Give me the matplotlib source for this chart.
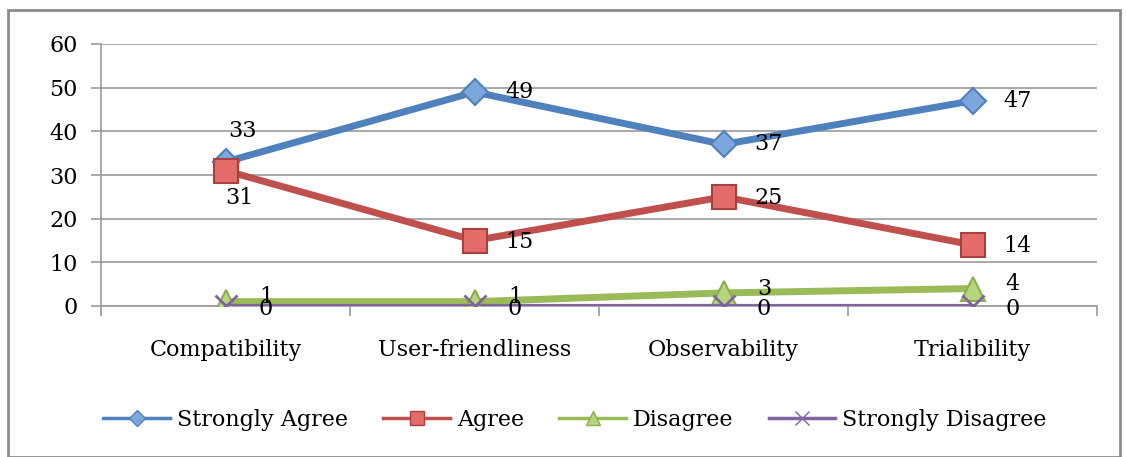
import matplotlib.pyplot as plt
from matplotlib.lines import Line2D
from matplotlib.patches import Rectangle

categories = ["Compatibility", "User-friendliness", "Observability", "Trialibility"]
strongly_agree = [33, 49, 37, 47]
agree = [31, 15, 25, 14]
disagree = [1, 1, 3, 4]
strongly_disagree = [0, 0, 0, 0]

plt.rcParams['font.family'] = ['DejaVu Serif']

fig = plt.figure(figsize=(11.26, 4.57), dpi=100)
ax = fig.add_axes([101 / 1126, 151 / 457, 996 / 1126, 262 / 457])

x = list(range(len(categories)))

series = [
    ("Strongly Agree", strongly_agree, "#4F81BD", "D", 13, 5, "#7DA6DC", "#4F81BD"),
    ("Agree", agree, "#C0504D", "s", 17, 5, "#E36C69", "#A8413E"),
    ("Disagree", disagree, "#9BBB59", "^", 17, 5, "#B5D67C", "#8DAE4E"),
    ("Strongly Disagree", strongly_disagree, "#8064A2", "x", 16, 3, "#8064A2", "#8064A2"),
]

handles = []
for name, vals, col, mk, ms, lw, fc, ec in series:
    mew = 2 if mk == "x" else 1.5
    ax.plot(x, vals, color=col, lw=lw, marker=mk, markersize=ms,
            markerfacecolor=fc, markeredgecolor=ec, markeredgewidth=mew,
            zorder=3, solid_capstyle='round')
    handles.append(Line2D([], [], color=col, lw=2.5, marker=mk, markersize=ms * 0.6,
                          markerfacecolor=fc, markeredgecolor=ec, markeredgewidth=1,
                          label=name))

# data labels
def label(xi, v, dx=22, dy=0, ha='left'):
    ax.annotate(str(v), (xi, v), xytext=(dx, dy), textcoords='offset points',
                ha=ha, va='center', fontsize=16, zorder=5)

for i, v in enumerate(strongly_agree):
    if i == 0:
        label(i, v, 12, 22, 'center')
    else:
        label(i, v, 22, 0)
for i, v in enumerate(agree):
    if i == 0:
        label(i, v, 10, -20, 'center')
    else:
        label(i, v, 22, -1)
for i, v in enumerate(disagree):
    label(i, v, 24, 3)
for i, v in enumerate(strongly_disagree):
    label(i, v, 24, -2)

ax.set_xlim(-0.5, 3.5)
ax.set_ylim(0, 60)
ax.set_yticks(range(0, 61, 10))
ax.set_xticks(x)
ax.set_xticklabels(categories)
ax.set_xticks([-0.5, 0.5, 1.5, 2.5, 3.5], minor=True)
ax.tick_params(axis='x', which='major', length=0, pad=24, labelsize=16)
ax.tick_params(axis='x', which='minor', length=7, color='#9a9a9a', width=1.2)
ax.tick_params(axis='y', length=7, color='#9a9a9a', width=1.2, labelsize=16, pad=10)
ax.grid(axis='y', color='#9a9a9a', lw=1.2)
ax.set_axisbelow(True)
for s in ['top', 'right']:
    ax.spines[s].set_visible(False)
for s in ['left', 'bottom']:
    ax.spines[s].set_color('#9a9a9a')
    ax.spines[s].set_linewidth(1.2)

fig.legend(handles=handles, loc='center', bbox_to_anchor=(575 / 1126, 1 - 420 / 457),
           ncol=4, frameon=False, fontsize=16, handlelength=3.0, columnspacing=1.6,
           handletextpad=0.3)

fig.patches.append(Rectangle((8 / 1126, 0), 1112 / 1126, 1 - 10 / 457,
                             transform=fig.transFigure, fill=False,
                             edgecolor='#8c8c8c', lw=2))

fig.savefig("out.png", dpi=100)
